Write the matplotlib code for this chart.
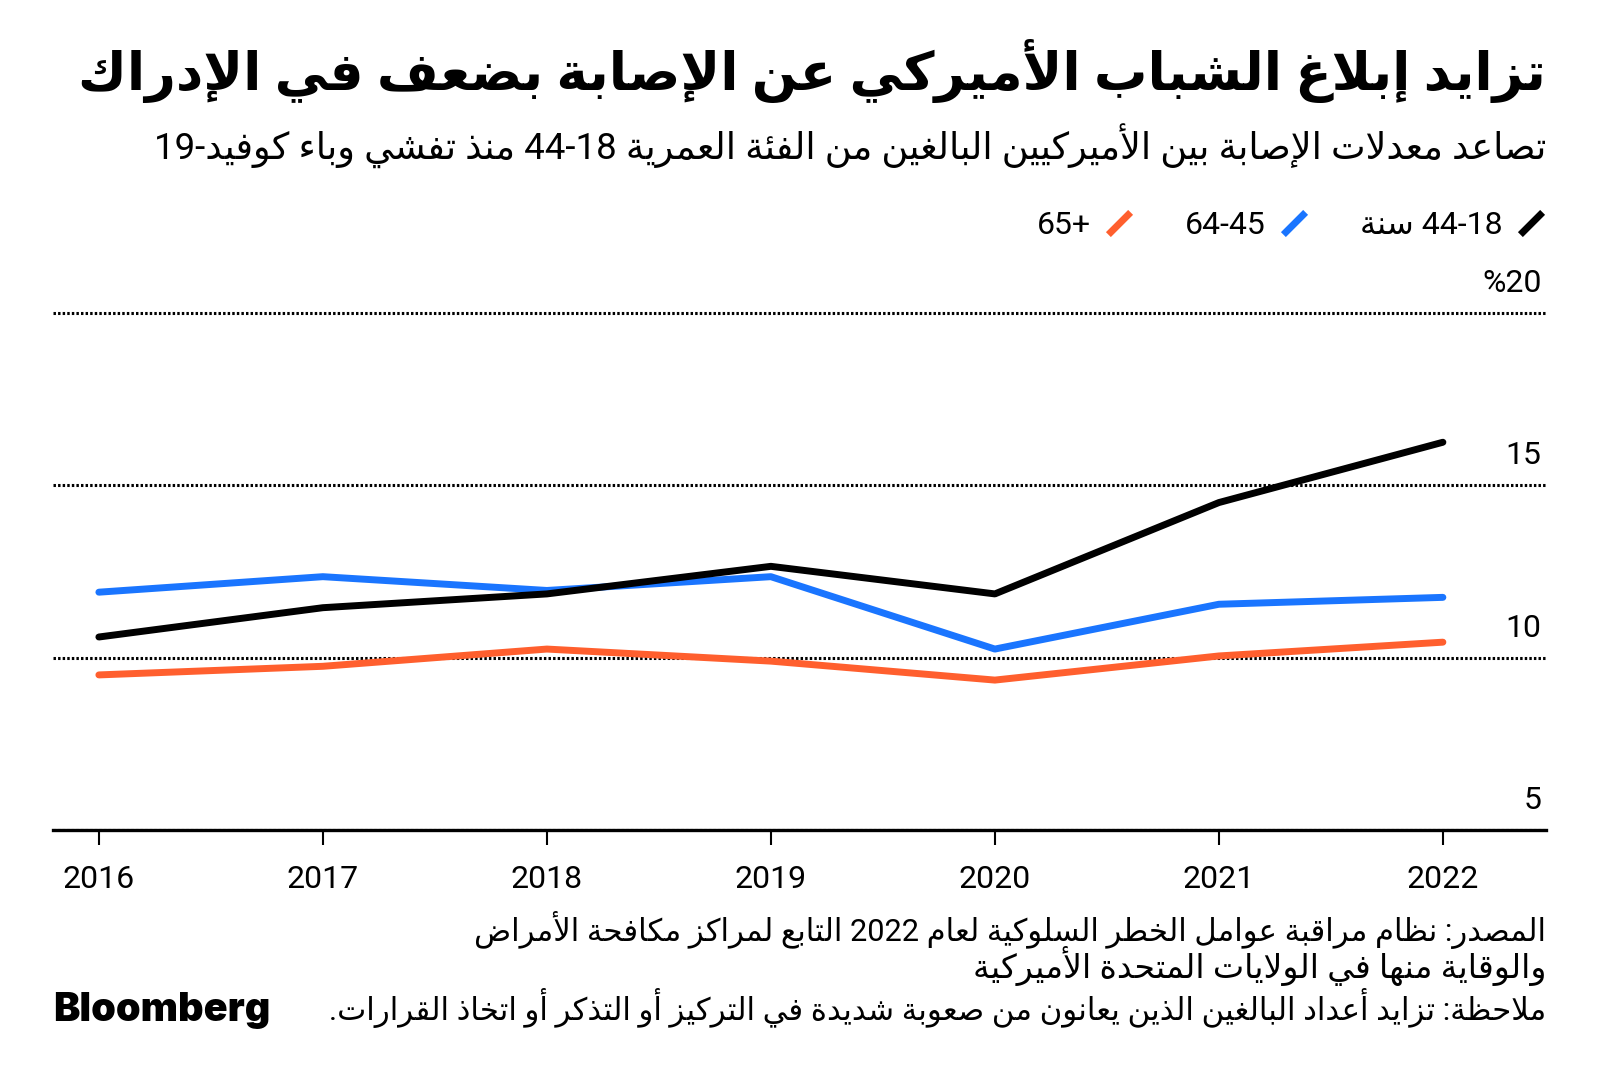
import re
import matplotlib
matplotlib.use('Agg')
import matplotlib.pyplot as plt
from matplotlib.lines import Line2D
from matplotlib import transforms

years = [2016, 2017, 2018, 2019, 2020, 2021, 2022]
age_18_44 = [10.6, 11.45, 11.85, 12.65, 11.85, 14.5, 16.25]
age_45_64 = [11.9, 12.35, 11.95, 12.35, 10.25, 11.55, 11.75]
age_65 = [9.5, 9.75, 10.25, 9.9, 9.35, 10.05, 10.45]
y_ticks = [5, 10, 15, 20]

title = 'تزايد إبلاغ الشباب الأميركي عن الإصابة بضعف في الإدراك'
subtitle = 'تصاعد معدلات الإصابة بين الأميركيين البالغين من الفئة العمرية 18-44 منذ تفشي وباء كوفيد-19'
series_labels = ['18-44 سنة', '45-64', '65+']
series_colors = ['black', '#1a75ff', '#ff5f2e']
source_lines = ['المصدر: نظام مراقبة عوامل الخطر السلوكية لعام 2022 التابع لمراكز مكافحة الأمراض',
                'والوقاية منها في الولايات المتحدة الأميركية']
note = 'ملاحظة: تزايد أعداد البالغين الذين يعانون من صعوبة شديدة في التركيز أو التذكر أو اتخاذ القرارات.'

# --- minimal arabic shaping (matplotlib has no RTL / joining support) ---
_letters = [('ء', 1), ('آ', 2), ('أ', 2), ('ؤ', 2), ('إ', 2), ('ئ', 4), ('ا', 2), ('ب', 4),
            ('ة', 2), ('ت', 4), ('ث', 4), ('ج', 4), ('ح', 4), ('خ', 4), ('د', 2), ('ذ', 2),
            ('ر', 2), ('ز', 2), ('س', 4), ('ش', 4), ('ص', 4), ('ض', 4), ('ط', 4), ('ظ', 4),
            ('ع', 4), ('غ', 4), ('ف', 4), ('ق', 4), ('ك', 4), ('ل', 4), ('م', 4), ('ن', 4),
            ('ه', 4), ('و', 2), ('ى', 2), ('ي', 4)]
FORMS = {}
code = 0xFE80
for ch, n in _letters:
    FORMS[ch] = [chr(code + k) for k in range(n)] + [None] * (4 - n)
    code += n
LAM_ALEF = {'آ': 0xFEF5, 'أ': 0xFEF7, 'إ': 0xFEF9, 'ا': 0xFEFB}


def shape(s):
    units = []
    i = 0
    while i < len(s):
        if s[i] == 'ل' and i + 1 < len(s) and s[i + 1] in LAM_ALEF:
            units.append(s[i:i + 2])
            i += 2
        else:
            units.append(s[i])
            i += 1

    def dual(u):
        return len(u) == 1 and u in FORMS and FORMS[u][2] is not None

    def right(u):
        return len(u) == 2 or (u in FORMS and FORMS[u][1] is not None)

    out = []
    for k, u in enumerate(units):
        prev = k > 0 and dual(units[k - 1]) and right(u)
        nxt = k < len(units) - 1 and dual(u) and right(units[k + 1])
        if len(u) == 2:
            out.append(chr(LAM_ALEF[u[1]] + int(prev)))
        elif u in FORMS:
            f = FORMS[u]
            out.append(f[3] if prev and nxt else f[2] if nxt else f[1] if prev else f[0])
        else:
            out.append(u)
    return ''.join(out)


def rtl(s):
    parts = re.findall(r'\d+|\D+', shape(s))
    return ''.join(p if p.isdigit() else p[::-1] for p in reversed(parts))


plt.rcParams['font.family'] = ['Roboto', 'DejaVu Sans']

fig = plt.figure(figsize=(16, 10.86), dpi=100)
renderer = fig.canvas.get_renderer()


def fit(t, width_px):
    bb = t.get_window_extent(renderer)
    t.set_fontsize(t.get_fontsize() * width_px / bb.width)


ax = fig.add_axes([0.0331, 0.2357, 0.9331, 0.4888])
for vals, col in zip([age_65, age_45_64, age_18_44], series_colors[::-1]):
    ax.plot(years, vals, color=col, lw=5, solid_capstyle='round', zorder=3)

ax.set_xlim(2015.795, 2022.46)
ax.set_ylim(5, 20.4)
ax.set_yticks(y_ticks)
ax.yaxis.grid(True, color='black', linestyle=(0, (0.8, 0.7)), linewidth=2.2)
ax.tick_params(axis='y', length=0, labelleft=False)
for s in ['left', 'right', 'top']:
    ax.spines[s].set_visible(False)
ax.spines['bottom'].set_linewidth(2.4)
ax.set_xticks(years)
ax.tick_params(axis='x', length=11, width=1.5, pad=14, labelsize=23)

lab_trans = transforms.offset_copy(ax.get_yaxis_transform(), fig=fig, y=15, units='points')
for v in y_ticks:
    lab = rtl(f'{v}%') if v == y_ticks[-1] else str(v)
    ax.text(0.997, v, lab, transform=lab_trans, ha='right', va='baseline', fontsize=23)

# legend, right to left
slash = [(-1, -1), (1, 1)]
handles = [Line2D([], [], color=c, marker=slash, markersize=16, markeredgewidth=5,
                  linestyle='none') for c in series_colors]
leg_labels = [rtl(series_labels[0]), rtl(series_labels[1]), series_labels[2]]
fig.legend(handles[::-1], leg_labels[::-1], ncol=3, markerfirst=False, loc='center right',
           bbox_to_anchor=(0.966, 1 - 226 / 1086), frameon=False, fontsize=23,
           handletextpad=0.45, columnspacing=1.6, handlelength=0.9, borderaxespad=0, borderpad=0)

rx = 1546 / 1600
t = fig.text(rx, 1 - 90 / 1086, rtl(title), ha='right', va='baseline', fontsize=34, fontweight='bold')
fit(t, 1469)
t = fig.text(rx, 1 - 160 / 1086, rtl(subtitle), ha='right', va='baseline', fontsize=22)
fit(t, 1391)
t = fig.text(rx, 1 - 941 / 1086, rtl(source_lines[0]), ha='right', va='baseline', fontsize=18)
fit(t, 1072)
t = fig.text(rx, 1 - 978 / 1086, rtl(source_lines[1]), ha='right', va='baseline', fontsize=18)
fit(t, 571)
t = fig.text(rx, 1 - 1020 / 1086, rtl(note), ha='right', va='baseline', fontsize=18)
fit(t, 1219)

t = fig.text(53 / 1600, 1 - 1021 / 1086, 'Bloomberg', ha='left', va='baseline', fontsize=26,
             fontweight='black', family='Inter')
fit(t, 217)

fig.savefig('out.png', dpi=100, facecolor='white')
